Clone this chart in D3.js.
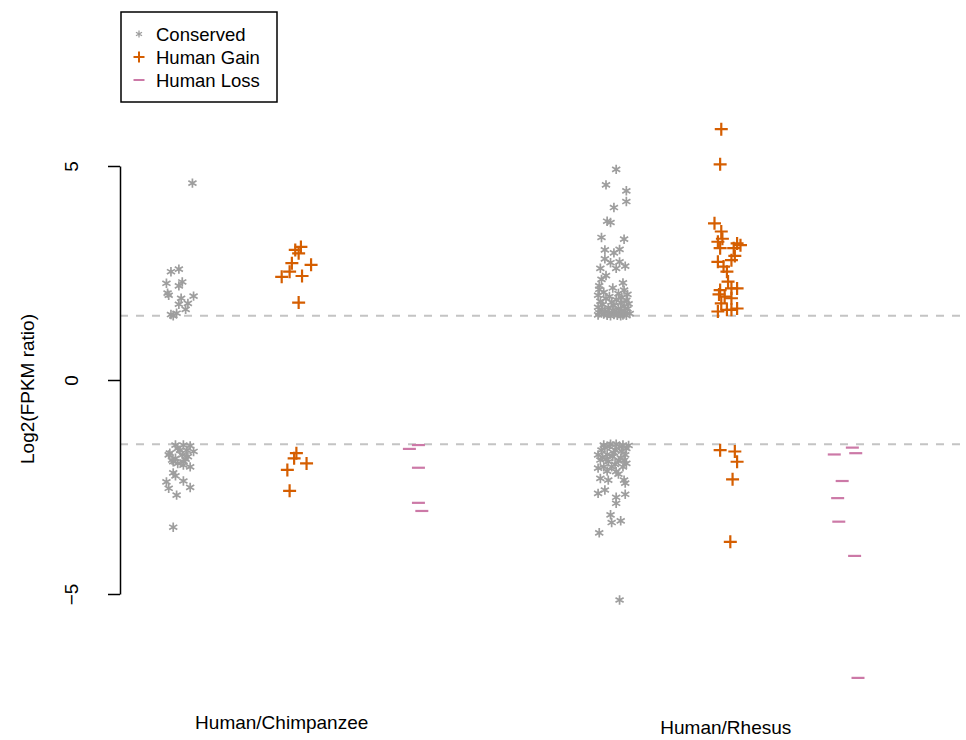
<!DOCTYPE html>
<html>
<head>
<meta charset="utf-8">
<script src="https://cdnjs.cloudflare.com/ajax/libs/d3/7.8.5/d3.min.js"></script>
<style>
  body { margin: 0; background: #fff; }
  svg { font-family: "Liberation Sans", Arial, sans-serif; }
</style>
</head>
<body>
<div id="chart"></div>
<script>
// group positions on the x axis (stripchart "at" values)
var groups = ["chimpConserved", "chimpGain", "chimpLoss", "rhesusConserved", "rhesusGain", "rhesusLoss"];
var groupPos = [1, 2, 3.07, 4.8, 5.8, 6.9];
var groupType = ["Conserved", "Human Gain", "Human Loss", "Conserved", "Human Gain", "Human Loss"];

var categories = ["Human/Chimpanzee", "Human/Rhesus"];
var categoryPos = [1.9, 5.83];

var legendLabels = ["Conserved", "Human Gain", "Human Loss"];
var yTicks = [-5, 0, 5];
var cutoffs = [1.5, -1.5];

// [jitter, log2 ratio] pairs
var chimpConserved = [
    [0.11, 4.6], [-0.08, 2.53], [-0.01, 2.59], [-0.12, 2.26], [0.02, 2.29], [-0.01, 2.2],
    [-0.11, 2.03], [-0.10, 1.98], [0.01, 1.91], [0.12, 1.96], [0.07, 1.79], [-0.01, 1.77],
    [0.05, 1.65], [-0.03, 1.56], [-0.08, 1.53], [-0.06, 1.5],
    [-0.04, -1.52], [0.03, -1.52], [0.09, -1.54], [-0.09, -1.71], [0.0, -1.64], [0.06, -1.64],
    [0.12, -1.67], [-0.10, -1.75], [-0.04, -1.83], [0.02, -1.75], [0.07, -1.79], [-0.06, -1.91],
    [0.03, -1.91], [-0.02, -1.95], [0.09, -2.03], [0.03, -1.99], [-0.07, -1.87], [-0.02, -1.6],
    [0.05, -1.85], [-0.06, -2.17], [-0.04, -2.24], [-0.12, -2.38], [0.03, -2.36], [-0.10, -2.53],
    [0.09, -2.51], [-0.03, -2.69], [-0.06, -3.44]
];
var chimpGain = [
    [0.02, 3.04], [0.07, 3.11], [0.05, 2.96], [-0.01, 2.73], [0.16, 2.69], [-0.03, 2.53],
    [-0.10, 2.41], [0.08, 2.43], [0.05, 1.81],
    [0.03, -1.71], [0.01, -1.83], [0.12, -1.95], [-0.05, -2.1], [-0.03, -2.59]
];
var chimpLoss = [
    [0.04, -1.52], [-0.04, -1.61], [0.04, -2.05], [0.04, -2.87], [0.07, -3.06]
];
var rhesusConserved = [
    [0.06, 4.92], [-0.03, 4.56], [0.15, 4.42], [0.15, 4.17], [0.04, 4.03], [-0.02, 3.71],
    [0.01, 3.68], [-0.07, 3.33], [0.13, 3.29], [-0.04, 3.04], [0.04, 2.97], [0.09, 3.05],
    [-0.04, 2.83], [0.01, 2.74], [0.09, 2.76], [0.14, 2.66], [0.06, 2.61], [-0.08, 2.61],
    [-0.03, 2.44], [-0.07, 2.35], [0.12, 2.27], [-0.09, 2.2],
    [-0.09, 2.12], [0.03, 2.15], [0.13, 2.1], [-0.05, 2.05], [0.08, 2.02], [0.16, 2.0],
    [-0.10, 1.98], [0.0, 1.95], [0.11, 1.93], [-0.03, 1.9], [0.06, 1.88], [0.15, 1.86],
    [-0.08, 1.84], [0.02, 1.82], [0.10, 1.8], [0.17, 1.78], [-0.06, 1.76], [0.04, 1.74],
    [0.13, 1.72], [-0.10, 1.7], [-0.01, 1.69], [0.08, 1.67], [0.16, 1.66], [-0.07, 1.64],
    [0.03, 1.63], [0.11, 1.62], [-0.04, 1.6], [0.06, 1.59], [0.14, 1.58], [-0.09, 1.57],
    [0.0, 1.56], [0.09, 1.55], [0.18, 1.55], [-0.05, 1.54], [0.04, 1.53], [0.12, 1.52],
    [-0.10, 1.52], [0.07, 1.51], [-0.02, 1.51], [0.15, 1.51], [0.01, 1.5], [0.10, 1.5],
    [-0.05, -1.52], [0.01, -1.5], [0.06, -1.5], [0.12, -1.52], [0.15, -1.6], [-0.07, -1.64],
    [0.05, -1.64], [0.11, -1.66], [-0.10, -1.75], [-0.02, -1.74], [0.03, -1.79], [0.14, -1.75],
    [-0.08, -1.87], [-0.01, -1.91], [0.08, -1.89], [0.15, -1.95], [-0.05, -2.03], [0.02, -2.03],
    [0.12, -2.03], [-0.10, -2.06], [-0.02, -2.13], [0.06, -2.14], [0.0, -1.55], [0.09, -1.56],
    [-0.04, -1.58], [0.17, -1.53], [0.04, -1.7], [-0.06, -1.8], [0.10, -1.82], [0.05, -1.97],
    [-0.03, -1.85], [0.13, -1.88],
    [-0.08, -2.3], [-0.01, -2.34], [-0.04, -2.57], [-0.10, -2.65], [0.08, -2.2], [0.13, -2.34],
    [0.14, -2.41], [0.06, -2.74], [0.14, -2.67], [0.06, -2.88], [0.01, -3.15], [0.02, -3.33],
    [0.10, -3.29], [-0.09, -3.57], [0.09, -5.14]
];
var rhesusGain = [
    [-0.01, 5.86], [-0.02, 5.04], [-0.07, 3.66], [-0.01, 3.47], [-0.04, 3.23], [0.13, 3.19],
    [-0.02, 3.08], [0.10, 3.08], [0.16, 3.15], [-0.04, 2.76], [0.08, 2.8], [0.01, 2.65],
    [0.04, 2.53], [0.05, 2.3], [0.08, 2.14], [-0.02, 2.1], [0.13, 2.14], [0.02, 1.95],
    [0.08, 1.91], [-0.01, 1.79], [0.04, 1.64], [0.08, 1.64], [0.13, 1.67], [-0.04, 1.6],
    [-0.03, 2.0], [0.11, 2.9], [0.0, 3.3],
    [-0.02, -1.64], [0.11, -1.67], [0.13, -1.91], [0.09, -2.32], [0.07, -3.78]
];
var rhesusLoss = [
    [0.05, -1.58], [0.08, -1.71], [-0.11, -1.74], [-0.04, -2.36], [-0.08, -2.76],
    [-0.07, -3.31], [0.07, -4.11], [0.10, -6.96]
];

var width = 966, height = 740;
var colors = {"Conserved": "#9e9e9e", "Human Gain": "#D55E00", "Human Loss": "#CC79A7"};

var x = d3.scaleLinear().domain([0, 8]).range([67, 971]);
var y = d3.scaleLinear().domain([-5, 5]).range([594, 166]);

var svg = d3.select("#chart").append("svg")
    .attr("width", width)
    .attr("height", height);

// mark shapes
function markPath(type, r) {
    if (type === "Conserved") {
        var p = "";
        [90, 30, 150].forEach(function(a) {
            var dx = r * Math.cos(a * Math.PI / 180), dy = r * Math.sin(a * Math.PI / 180);
            p += "M" + (-dx) + "," + (-dy) + "L" + dx + "," + dy;
        });
        return p;
    }
    if (type === "Human Gain") return "M" + (-r) + ",0L" + r + ",0M0," + (-r) + "L0," + r;
    return "M" + (-r) + ",0L" + r + ",0";
}
var markSize = {"Conserved": 4.7, "Human Gain": 6.5, "Human Loss": 6.5};
var markWidth = {"Conserved": 1.7, "Human Gain": 2.2, "Human Loss": 2.2};

// cutoff lines
svg.selectAll("line.cut")
    .data(cutoffs)
    .enter().append("line")
    .attr("class", "cut")
    .attr("x1", 120).attr("x2", width)
    .attr("y1", function(d) { return y(d); })
    .attr("y2", function(d) { return y(d); })
    .style("stroke", "#c4c4c4")
    .style("stroke-width", 2)
    .style("stroke-dasharray", "8,8");

// points
var allData = {chimpConserved: chimpConserved, chimpGain: chimpGain, chimpLoss: chimpLoss,
    rhesusConserved: rhesusConserved, rhesusGain: rhesusGain, rhesusLoss: rhesusLoss};

groups.forEach(function(g, k) {
    var type = groupType[k];
    svg.append("g").selectAll("path")
        .data(allData[g])
        .enter().append("path")
        .attr("transform", function(d) {
            return "translate(" + x(groupPos[k] + d[0]) + "," + y(d[1]) + ")";
        })
        .attr("d", markPath(type, markSize[type]))
        .style("fill", "none")
        .style("stroke", colors[type])
        .style("stroke-width", markWidth[type]);
});

// y axis
var yAxis = svg.append("g")
    .attr("transform", "translate(120,0)")
    .call(d3.axisLeft(y).tickValues(yTicks).tickSize(12).tickSizeOuter(0).tickFormat(function(d) {
        return d < 0 ? "\u2212" + Math.abs(d) : d;
    }));
yAxis.select(".domain").style("stroke", "#000").style("stroke-width", 1.5);
yAxis.selectAll(".tick line").style("stroke", "#000").style("stroke-width", 1.5);
yAxis.selectAll(".tick text")
    .attr("x", null).attr("dy", null)
    .attr("transform", "translate(-42,0) rotate(-90)")
    .attr("text-anchor", "middle")
    .style("font-family", "Liberation Sans, Arial, sans-serif")
    .style("font-size", "19px")
    .style("fill", "#000");

svg.append("text")
    .attr("transform", "translate(34,389) rotate(-90)")
    .attr("text-anchor", "middle")
    .style("font-size", "19px")
    .text("Log2(FPKM ratio)");

// category labels
svg.selectAll("text.cat")
    .data(categories)
    .enter().append("text")
    .attr("class", "cat")
    .attr("x", function(d, i) { return x(categoryPos[i]); })
    .attr("y", function(d, i) { return i === 0 ? 729 : 734; })
    .attr("text-anchor", "middle")
    .style("font-size", "19px")
    .text(function(d) { return d; });

// legend
var legend = svg.append("g").attr("class", "legend");
legend.append("rect")
    .attr("x", 121).attr("y", 12)
    .attr("width", 156).attr("height", 90)
    .style("fill", "#fff")
    .style("stroke", "#000")
    .style("stroke-width", 1.5);

legend.selectAll("g")
    .data(legendLabels)
    .enter().append("g")
    .each(function(d, k) {
        var g = d3.select(this);
        var ly = 34 + k * 23;
        g.append("path")
            .attr("transform", "translate(139," + ly + ")")
            .attr("d", markPath(d, d === "Conserved" ? 3.5 : 5.5))
            .style("fill", "none")
            .style("stroke", colors[d])
            .style("stroke-width", d === "Conserved" ? 1.3 : 2);
        g.append("text")
            .attr("x", 156)
            .attr("y", ly + 6.5)
            .style("font-size", "18.5px")
            .text(d);
    });
</script>
</body>
</html>
